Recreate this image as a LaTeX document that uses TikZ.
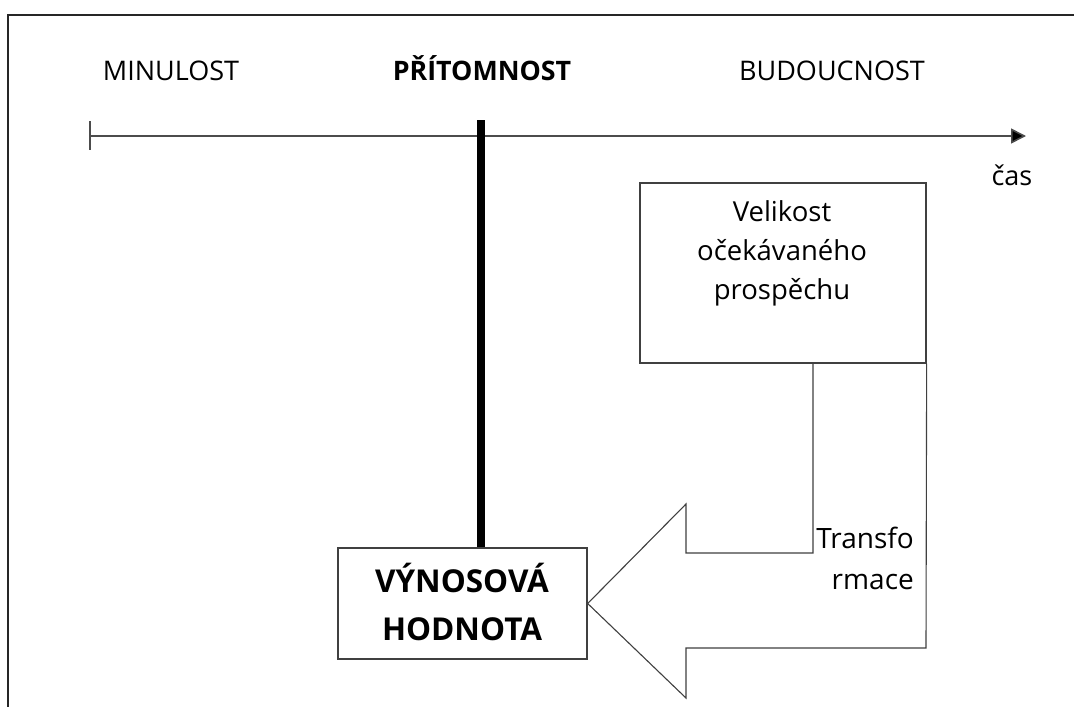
\documentclass[tikz,border=0pt]{standalone}
\usepackage{fontspec}
\setmainfont{Open Sans}
\usetikzlibrary{arrows.meta}
\tikzset{
  lbl/.style={inner sep=0pt, anchor=base, font=\fontsize{27}{32}\selectfont},
  boxline/.style={draw=black!75, line width=1.3pt},
  lbox/.style={boxline, inner sep=0pt, align=center},
}
\begin{document}
\begin{tikzpicture}[x=1pt,y=-1pt]
\useasboundingbox (0,0) rectangle (1074,707);
\fill[white] (0,0) rectangle (1074,707);
% outer frame
\draw[black!85, line width=2pt] (1074,15) -- (8,15) -- (8,707);
% time axis
\coordinate (axL) at (90,136);
\coordinate (axR) at (1026,136);
\draw[black!70, line width=1.6pt] (90,121) -- (90,150);
\draw[black!70, line width=1.6pt, -{Triangle[length=15pt,width=15pt,fill=black]}] (axL) -- (axR);
% labels
\node[lbl] (minul) at (171,80) {MINULOST};
\node[lbl, font=\fontsize{26.8}{32}\selectfont\bfseries] (prit) at (482,80) {PŘÍTOMNOST};
\node[lbl] (budou) at (832,80) {BUDOUCNOST};
\node[lbl] (cas) at (1012,185) {čas};
% boxes
\node[lbox, minimum width=286pt, minimum height=180pt] (vel) at (783,273) {};
\node[lbl, align=center, font=\fontsize{27.5}{39}\selectfont] (veltext) at (782,299) {Velikost\\očekávaného\\prospěchu};
\node[lbox, minimum width=249pt, minimum height=111pt] (vyn) at (462.5,603.5) {};
\node[lbl, align=center, font=\fontsize{31.5}{48}\selectfont\bfseries] (vyntext) at (462,640) {VÝNOSOVÁ\\HODNOTA};
% present bar
\draw[black, line width=8pt] (481,120) -- (vyn.north -| 481,0);
% transformation arrow
\draw[boxline, line width=1.1pt, line join=miter]
  (vel.south -| 813,0) -- (813,553) -- (686,553) -- (686,504) -- (vyn.east) -- (686,698) -- (686,648) -- (926,648) -- (vel.south east);
\node[lbl, anchor=base east, align=right, font=\fontsize{28}{41}\selectfont] (tr) at (914,589) {Transfo\\rmace};
\end{tikzpicture}
\end{document}
